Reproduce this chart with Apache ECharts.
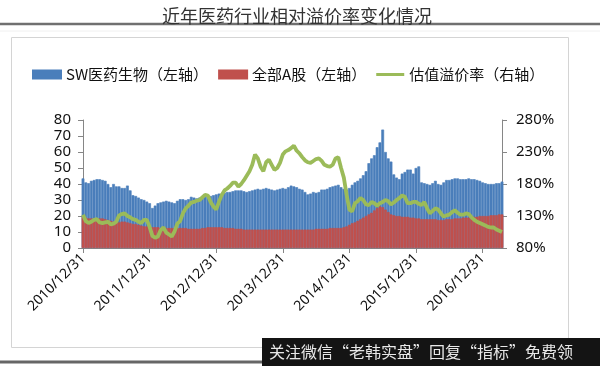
<!DOCTYPE html>
<html><head><meta charset="utf-8">
<script src="https://cdn.jsdelivr.net/npm/echarts@6/dist/echarts.min.js"></script>
<style>html,body{margin:0;padding:0;background:#fff}#c{width:600px;height:366px}</style>
</head><body><div id="c"></div>
<script>
// Semi-monthly observation dates, 2010/12/31 .. 2017/4/15
const categories = ['2010/12/31'];
(function(){
  const monthEnd = [31,28,31,30,31,30,31,31,30,31,30,31];
  for (let y = 2011; y <= 2017; y++) {
    for (let m = 1; m <= 12; m++) {
      let e = monthEnd[m-1]; if (m === 2 && y % 4 === 0) e = 29;
      categories.push(y + '/' + m + '/15');
      if (y === 2017 && m === 4) return;
      categories.push(y + '/' + m + '/' + e);
    }
  }
})();
const yearTickLabels = ['2010/12/31','2011/12/31','2012/12/31','2013/12/31','2014/12/31','2015/12/31','2016/12/31'];
const seriesNames = ['SW医药生物（左轴）','全部A股（左轴）','估值溢价率（右轴）'];
const leftTicks = [0,80,10];
const rightTicks = [80,280,50];

const swPharma = [43.5,41,40.5,42,42.5,43,43,42.5,42,40,38,40,38.5,38.5,37.5,37.5,39,36,33,32.5,
 31.5,30.5,30,29,28,25,26.5,28,28.5,29,29.5,29,28.5,28,29.5,30.5,30.5,30,30.5,32,
 31.5,31,31.5,31.5,32,32,32.5,33,33.5,34,34,34.5,35,35,35.5,36,36,36,35.5,35,
 35.5,36,36.5,37,36.5,37,37.5,37,36.5,36,36.5,37,37.5,37,38,39,38.5,38,37,36.5,
 35,33.5,34,35,34.5,35,36.5,36.5,37,38,38.5,39,39.5,38,37,36.5,37.5,39.5,41,42,
 43.5,45.5,48,53,56,58,63,66,74,60,56,54,46,44,43,46.5,47.5,49,49,46.5,
 50,51,41,40.5,40,39.5,40.5,42,40,39.5,41,42.5,42.5,43,43.5,43.5,43,43,43,43.5,
 43,43,42.5,42,41,40.5,40,40,40,40.5,40.5,41.5];
const allA = [19.5,19,18.5,18.5,18.5,18.5,18.5,18.5,18,17.5,17,16.5,16.5,16,16.5,16.5,16,15.5,15,15,
 14.5,14,13.5,13.5,13.5,13,13,13,12.5,12.5,12.5,12.5,12.5,12.5,12.5,12.5,12.5,12.5,12,12,
 12,12,12,12.5,12.5,13,13,13,13,13,13,12.5,12.5,12.5,12.5,12,12,12,11.5,11.5,
 11.5,11.5,11.5,11.5,11.5,11.5,11.5,11.5,11.5,11.5,11.5,11.5,11.5,11.5,11.5,11.5,11.5,11.5,11.5,11.5,
 11.5,11.5,11.5,11.5,12,12,12,12,12,12.5,12.5,12.5,12.5,12.5,13,13.5,14.5,15.5,16,17,
 18,19,20,21,22,23.5,25,26,25.5,24,22.5,21,20.5,20,20,19.5,19.5,19.5,19,19,
 18.5,18.5,18,18,18,18,18,18,17.5,17.5,17.5,18,18,18,18.5,18.5,18.5,19,19,19,
 19.5,19.5,19.5,20,20,20,20,20.5,20.5,20.5,21,21];
const premium = [132,122,119,121,124,125,120,119,120,121,117,118,121,131,133,134,130,128,125,124,
 121,119,124,124,113,99,96,98,108,112,104,101,98,106,118,122,134,142,146,151,
 152,154,155,159,163,162,152,145,140,152,163,170,173,177,182,182,176,180,186,193,
 200,210,226,220,207,200,214,218,210,202,205,213,226,231,233,236,240,232,228,222,
 217,214,213,216,219,220,216,210,208,207,210,220,222,205,190,163,140,137,150,153,
 158,155,148,147,152,150,146,150,152,155,153,148,151,155,158,162,160,150,150,152,
 152,149,147,152,142,134,138,142,140,134,129,131,132,136,139,135,132,132,134,133,
 128,124,121,119,117,115,113,112,112,109,107,105];

const isYearEnd = (i, v) => yearTickLabels.indexOf(v) >= 0;
const axisGray = '#868686';
const blue = '#4a7ebb', red = '#c0504d', green = '#9bbb59';
const chart = echarts.init(document.getElementById('c'), null, {renderer: 'canvas'});
chart.setOption({
  animation: false,
  title: {
    text: '近年医药行业相对溢价率变化情况', left: 157, top: 2,
    textStyle: {fontFamily: 'Noto Sans CJK SC', fontSize: 18, fontWeight: 'normal', color: '#333'}
  },
  graphic: [
    {type: 'line', shape: {x1: 0, y1: 24, x2: 600, y2: 24}, style: {stroke: '#707070', lineWidth: 2.5}, silent: true},
    {type: 'line', shape: {x1: 0, y1: 31, x2: 600, y2: 31}, style: {stroke: '#f0f0f0', lineWidth: 1}, silent: true},
    {type: 'rect', shape: {x: 11.5, y: 37.5, width: 557, height: 310}, style: {fill: 'none', stroke: '#d4d4d4', lineWidth: 1}, silent: true, z: -1},
    {type: 'line', shape: {x1: 0, y1: 362, x2: 600, y2: 362}, style: {stroke: '#666', lineWidth: 3}, silent: true},
    {type: 'rect', shape: {x: 262, y: 338, width: 338, height: 28}, style: {fill: '#141414'}, silent: true, z: 10},
    {type: 'text', x: 269, y: 352, style: {text: '关注微信“老韩实盘”回复“指标”免费领', fill: '#e8e8e8', fontSize: 16, fontFamily: 'Noto Sans CJK SC', verticalAlign: 'middle'}, silent: true, z: 11}
  ],
  legend: {
    left: 27, top: 62, itemWidth: 28, itemGap: 10, itemHeight: 8,
    textStyle: {fontFamily: 'Noto Sans CJK SC', fontSize: 15, color: '#111'},
    data: [
      {name: seriesNames[0], icon: 'rect'},
      {name: seriesNames[1], icon: 'rect'},
      {name: seriesNames[2], icon: 'path://M0,0h28v3h-28z'}
    ]
  },
  grid: {left: 83, right: 98, top: 120, bottom: 118},
  xAxis: {
    type: 'category', data: categories, boundaryGap: false,
    axisLine: {lineStyle: {color: axisGray}},
    axisTick: {interval: isYearEnd, length: 5, lineStyle: {color: axisGray}},
    axisLabel: {interval: isYearEnd, rotate: 45, margin: 8, fontSize: 14, fontFamily: 'Noto Sans', color: '#111'},
    splitLine: {show: false}
  },
  yAxis: [
    {type: 'value', min: leftTicks[0], max: leftTicks[1], interval: leftTicks[2],
     axisLine: {show: true, lineStyle: {color: axisGray}},
     axisTick: {show: true, length: 5, lineStyle: {color: axisGray}},
     axisLabel: {margin: 12, fontSize: 15, fontFamily: 'Noto Sans', color: '#111'},
     splitLine: {show: false}},
    {type: 'value', min: rightTicks[0], max: rightTicks[1], interval: rightTicks[2], position: 'right',
     axisLine: {show: true, lineStyle: {color: axisGray}},
     axisTick: {show: true, length: 5, lineStyle: {color: axisGray}},
     axisLabel: {margin: 14, fontSize: 15, fontFamily: 'Noto Sans', color: '#111', formatter: '{value}%'},
     splitLine: {show: false}}
  ],
  series: [
    {name: seriesNames[0], type: 'bar', data: swPharma, barGap: '-100%', barCategoryGap: '0%',
     itemStyle: {color: blue, borderColor: blue, borderWidth: 0.6}, clip: true},
    {name: seriesNames[1], type: 'bar', data: allA, barGap: '-100%', barCategoryGap: '0%',
     itemStyle: {color: red, borderColor: red, borderWidth: 0.6}, clip: true},
    {name: seriesNames[2], type: 'line', yAxisIndex: 1, data: premium, showSymbol: false, symbol: 'none',
     lineStyle: {color: green, width: 3.8}, itemStyle: {color: green}, z: 5}
  ]
});
</script>
</body></html>
